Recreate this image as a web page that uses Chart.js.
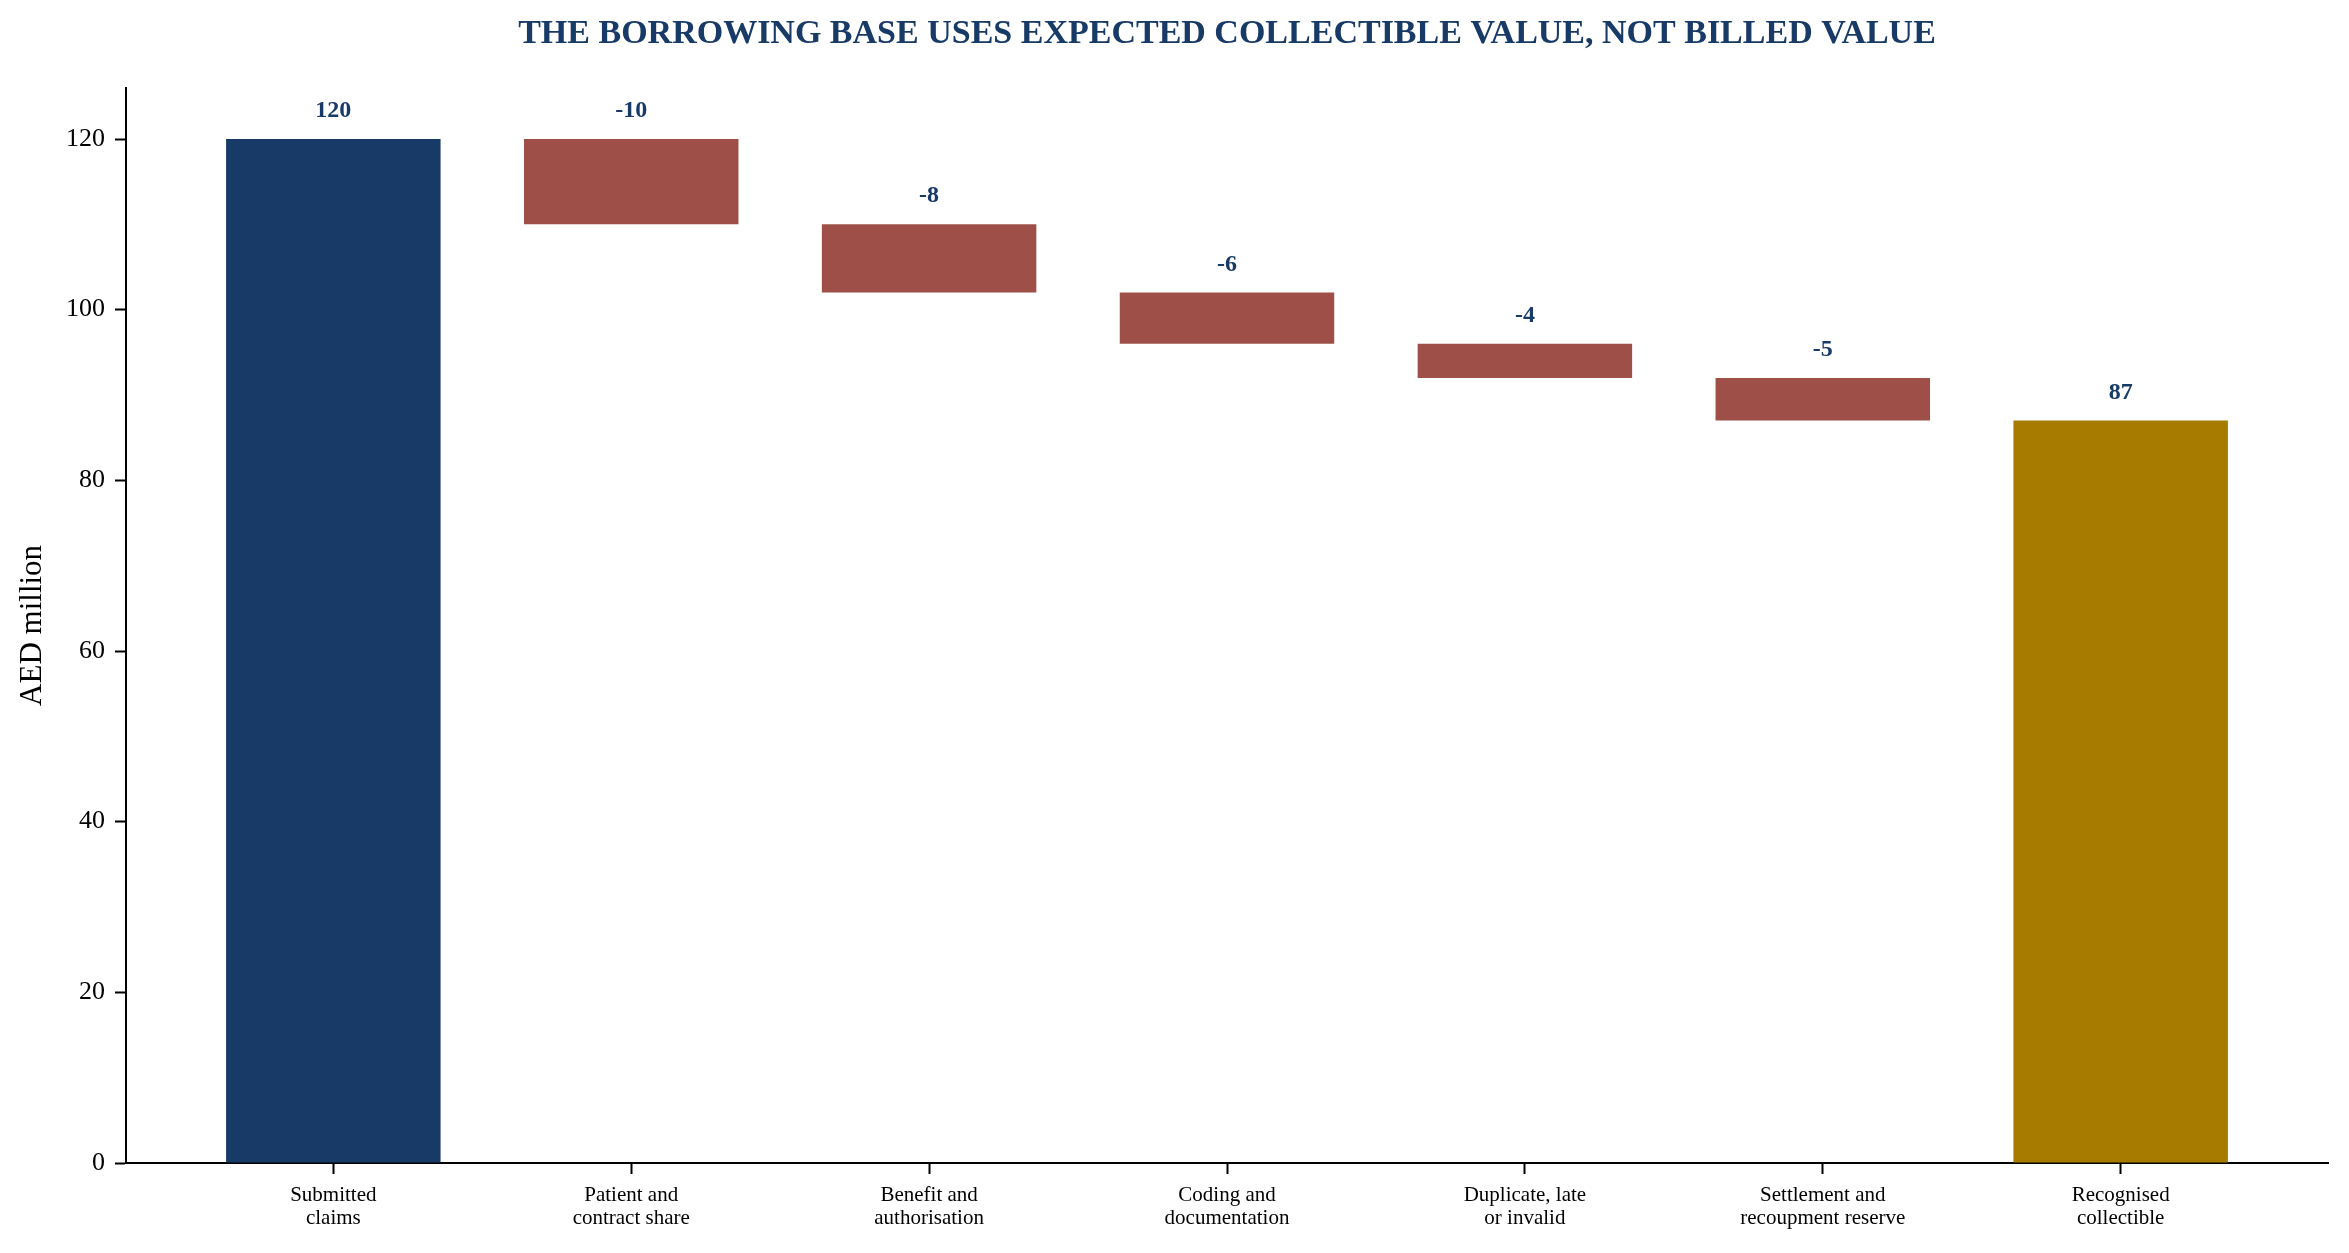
<!DOCTYPE html>
<html>
<head>
<meta charset="utf-8">
<script src="https://cdn.jsdelivr.net/npm/chart.js@4.4.1/dist/chart.umd.min.js"></script>
<style>
  html, body { margin: 0; padding: 0; background: #fff; }
  canvas { display: block; }
</style>
</head>
<body>
<canvas id="mainChart" width="2349" height="1253"></canvas>
<script>
// chart data
var categories = [
  ["Submitted", "claims"],
  ["Patient and", "contract share"],
  ["Benefit and", "authorisation"],
  ["Coding and", "documentation"],
  ["Duplicate, late", "or invalid"],
  ["Settlement and", "recoupment reserve"],
  ["Recognised", "collectible"]
];
var stepValues = [120, -10, -8, -6, -4, -5, 87];
var stepKinds = ["total", "delta", "delta", "delta", "delta", "delta", "total"];
var yTicks = [0, 20, 40, 60, 80, 100, 120];

var NAVY = "#183a67";
var RED = "#9e5048";
var GOLD = "#a67b00";
var SERIF = "'Liberation Serif', 'Times New Roman', serif";

// floating bars: totals start at zero, deltas hang off the running level
var level = 0;
var ranges = [];
var colours = [];
for (var i = 0; i < stepValues.length; i++) {
  if (stepKinds[i] == "total") {
    level = stepValues[i];
    ranges.push({x: i, y: [0, level]});
    colours.push(i == 0 ? NAVY : GOLD);
  } else {
    var next = level + stepValues[i];
    ranges.push({x: i, y: [next, level]});
    colours.push(RED);
    level = next;
  }
}

// write the step value above each bar
var valueLabels = {
  id: "valueLabels",
  afterDatasetsDraw: function(chart) {
    var ctx = chart.ctx;
    var meta = chart.getDatasetMeta(0);
    ctx.save();
    ctx.fillStyle = NAVY;
    ctx.font = "bold 24px " + SERIF;
    ctx.textAlign = "center";
    ctx.textBaseline = "alphabetic";
    meta.data.forEach(function(bar, idx) {
      var top = Math.min(bar.y, bar.base);
      ctx.fillText(String(stepValues[idx]), bar.x, top - 22);
    });
    ctx.restore();
  }
};

var data = {
  datasets: [{
    data: ranges,
    backgroundColor: colours,
    borderWidth: 0,
    borderSkipped: false,
    barPercentage: 0.72,
    categoryPercentage: 1.0
  }]
};

var options = {
  responsive: false,
  animation: false,
  devicePixelRatio: 1,
  layout: { padding: { left: 0, right: 21, top: 0, bottom: 0 } },
  plugins: {
    legend: { display: false },
    tooltip: { enabled: false },
    title: {
      display: true,
      fullSize: false,
      text: "THE BORROWING BASE USES EXPECTED COLLECTIBLE VALUE, NOT BILLED VALUE",
      color: NAVY,
      font: { family: SERIF, size: 34, weight: "bold", lineHeight: 1.2 },
      padding: { top: 14, bottom: 33 }
    }
  },
  scales: {
    x: {
      type: "linear",
      offset: false,
      min: -0.696,
      max: 6.696,
      afterBuildTicks: function(axis) {
        axis.ticks = categories.map(function(c, idx) { return {value: idx}; });
      },
      afterFit: function(axis) { axis.height = 90; },
      ticks: {
        autoSkip: false,
        maxRotation: 0,
        padding: 10,
        color: "#000",
        font: { family: SERIF, size: 21, lineHeight: 1.1 },
        callback: function(value) { return categories[value]; }
      },
      grid: {
        offset: false,
        drawOnChartArea: false,
        drawTicks: true,
        tickLength: 11,
        tickColor: "#000",
        tickWidth: 2
      },
      border: { display: true, color: "#000", width: 2 }
    },
    y: {
      min: 0,
      max: 126,
      afterBuildTicks: function(axis) {
        axis.ticks = yTicks.map(function(v) { return {value: v}; });
      },
      afterFit: function(axis) { axis.width = 126; },
      ticks: {
        padding: 10,
        color: "#000",
        font: { family: SERIF, size: 26 }
      },
      grid: {
        drawOnChartArea: false,
        drawTicks: true,
        tickLength: 11,
        tickColor: "#000",
        tickWidth: 2
      },
      border: { display: true, color: "#000", width: 2 },
      title: {
        display: true,
        text: "AED million",
        color: "#000",
        font: { family: SERIF, size: 31 },
        padding: { top: 14, bottom: 0 }
      }
    }
  }
};

var ctx = document.getElementById("mainChart");
new Chart(ctx, { type: "bar", data: data, options: options, plugins: [valueLabels] });
</script>
</body>
</html>
